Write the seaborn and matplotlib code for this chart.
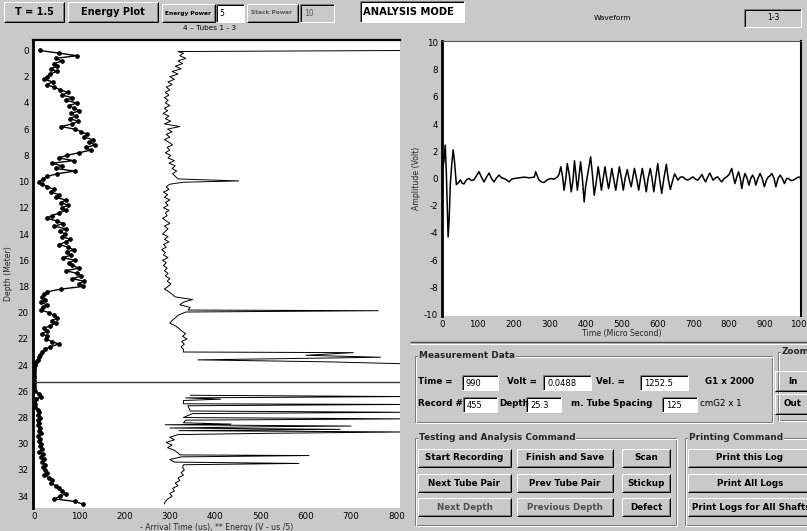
import numpy as np
import pandas as pd
import matplotlib
matplotlib.use("Agg")
import matplotlib.pyplot as plt
import seaborn as sns
from matplotlib.patches import Rectangle

sns.set_theme(style="white")
plt.rcParams["font.family"] = ["DejaVu Sans"]
plt.rcParams["axes.unicode_minus"] = False

# ---------------- data ----------------
RECORD_STEP_M = 0.2

# Energy log (V-us/5), one value per record from 0.0 m downwards
energy_v_us = [
    13, 55, 95, 48, 62,   45, 52, 38, 50, 35,   30, 22, 42, 28, 45,
    58, 75, 62, 85, 70,   95, 78, 88, 100, 82,  92, 80, 98, 85, 60,
    90, 105, 118, 110, 130,  122, 135, 115, 125, 100,  72, 55, 88, 40, 62,
    48, 90, 52, 30, 20,   12, 18, 30, 45, 38,   55, 48, 70, 60, 75,
    62, 70, 55, 40, 28,   50, 65, 45, 70, 58,   68, 62, 80, 70, 56,
    75, 88, 72, 82, 65,   90, 78, 85, 100, 70,  95, 105, 85, 110, 100,
    108, 60, 30, 22, 18,  25, 16, 28, 20, 15,   34, 45, 52, 40, 48,
    35, 22, 28, 18, 30,   26, 40, 55, 35, 25,   18, 14, 12, 8, 5,
    2, 1, 0, 1, 0,        1, 0, 0, 1, 0,        2, 12, 16, 4, 1,
    3, 2, 8, 12, 10,      14, 8, 12, 10, 13,    11, 15, 9, 14, 12,
    16, 13, 18, 12, 20,   15, 22, 18, 25, 20,   24, 30, 22, 34, 40,
    38, 48, 55, 62, 70,   58, 45, 90, 108,
]

# First arrival time (us) with its depths; NaN marks the unlogged stretch
arrival_depth_m = [
    0.0, 0.08, 0.2, 0.4, 0.6, 0.8, 1.0, 1.2, 1.4, 1.6, 1.8, 2.0, 2.2, 2.4, 2.6,
    2.8, 3.0, 3.2, 3.4, 3.6, 3.8, 4.0, 4.2, 4.4, 4.6, 4.8, 5.0, 5.2, 5.4, 5.6,
    5.8, 6.0, 6.2, 6.4, 6.6, 6.8, 7.0, 7.2, 7.4, 7.6, 7.8, 8.0, 8.2, 8.4, 8.6,
    8.8, 9.0, 9.2, 9.4, 9.6, 9.8, 9.95, 10.05, 10.2, 10.4, 10.6, 10.8, 11.0,
    11.2, 11.4, 11.6, 11.8, 12.0, 12.2, 12.4, 12.6, 12.8, 13.0, 13.2, 13.4,
    13.6, 13.8, 14.0, 14.2, 14.4, 14.6, 14.8, 15.0, 15.2, 15.4, 15.6, 15.8,
    16.0, 16.2, 16.4, 16.6, 16.8, 17.0, 17.2, 17.4, 17.6, 17.8, 18.0, 18.2,
    18.4, 18.6, 18.8, 19.0, 19.2, 19.4, 19.6, 19.8, 19.85, 19.95, 20.2, 20.4,
    20.6, 20.8, 21.0, 21.2, 21.4, 21.6, 21.8, 22.0, 22.2, 22.4, 22.6, 22.8,
    23.0, 23.05, 23.25, 23.4, 23.6, 23.75, 23.9,
    24.5,
    26.3, 26.4, 26.5, 26.6, 26.7, 26.95, 27.0, 27.1, 27.5, 27.6, 27.7, 28.0,
    28.1, 28.2, 28.4, 28.5, 28.55, 28.65, 28.7, 28.8, 28.9, 29.0, 29.1, 29.2,
    29.3, 29.5, 29.7, 29.9, 30.1, 30.3, 30.5, 30.7, 30.85, 30.9, 31.0, 31.2,
    31.4, 31.5, 31.6, 31.8, 32.0, 32.2, 32.4, 32.6, 32.8, 33.0, 33.2, 33.4,
    33.6, 33.8, 34.0, 34.2, 34.4, 34.6,
]
arrival_time_us = [
    820, 318, 330, 322, 335, 318, 328, 312, 325, 305, 318, 300, 310, 296, 305,
    292, 300, 290, 298, 288, 296, 290, 300, 288, 295, 285, 298, 290, 302, 288,
    322, 295, 305, 292, 300, 288, 298, 306, 294, 300, 290, 302, 296, 310, 298,
    312, 305, 315, 306, 312, 318, 452, 330, 300, 292, 298, 286, 295,
    288, 300, 290, 296, 286, 298, 290, 294, 284, 292, 300, 288,
    296, 290, 284, 296, 288, 298, 286, 292, 282, 290, 286, 296,
    284, 292, 286, 294, 288, 296, 290, 300, 294, 302, 296, 288,
    298, 305, 312, 350, 330, 322, 345, 340, 760, 335, 318, 312,
    305, 300, 312, 320, 326, 335, 328, 338, 326, 332, 325, 330,
    330, 705, 600, 765, 362, 648, 820,
    np.nan,
    345, 820, 335, 412, 330, 330, 820, 340, 345, 820, 350, 330,
    820, 335, 330, 435, 290, 700, 516, 300, 676, 320, 820, 523,
    318, 300, 310, 292, 305, 295, 310, 318, 322, 607, 325, 300,
    310, 585, 330, 328, 332, 325, 330, 318, 322, 312, 318, 306,
    310, 300, 305, 296, 290, 288,
]

current_depth_m = 25.3

# Received waveform at the current depth
wave_time_us = [
    0, 5, 9, 12, 14, 17, 20, 23, 27, 31, 35, 40, 46, 51, 56, 61, 68, 75, 82,
    89, 96, 103, 110, 117, 124, 131, 138, 145, 152, 159, 166, 173, 180, 187,
    194, 201, 215, 229, 243, 257, 261, 266, 270, 277, 284, 293, 303, 312, 321,
    326, 331, 336, 340, 345, 349, 355, 360, 365, 369, 373, 377, 381, 386, 391,
    396, 400, 405, 414, 419, 424, 430, 435, 440, 444, 449, 454, 459, 464, 469,
    473, 478, 484, 489, 494, 500, 505, 510, 516, 521, 527, 531, 536, 542, 548,
    553, 558, 563, 569, 574, 580, 585, 590, 595, 601, 606, 612, 618, 625, 630,
    636, 642, 648, 657, 664, 671, 678, 685, 692, 699, 706, 713, 719, 724, 729,
    734, 740, 746, 751, 755, 762, 768, 774, 779, 786, 793, 800, 807, 812, 816,
    821, 826, 831, 835, 840, 844, 850, 855, 860, 865, 870, 874, 880, 886, 892,
    898, 904, 909, 914, 919, 925, 930, 936, 942, 948, 954, 960, 965, 972, 979,
    986, 993, 1000,
]
wave_amp_v = [
    0.45, 1.2, 2.45, 0.5, -1.5, -4.3, -3.0, -0.5, 1.0, 2.1, 1.2, -0.45, -0.3,
    -0.1, -0.35, -0.4, -0.1, 0.0, -0.15, -0.1, 0.2, 0.5, 0.1, -0.25, 0.1, 0.4,
    0.0, -0.25, 0.05, 0.25, 0.05, 0.0, -0.1, -0.25, -0.05, 0.0, 0.05, 0.1,
    0.05, 0.1, 0.5, 0.15, -0.1, -0.25, -0.3, -0.1, 0.0, -0.05, 0.1, 0.3, 0.86,
    0.1, -0.86, 0.0, 1.1, 0.2, -0.98, -0.1, 1.3, 0.3, -0.86, 0.0, 1.23, 0.0,
    -1.72, -0.6, 0.2, 1.59, 0.3, -1.23, -0.2, 0.86, 0.0, -0.86, 0.0, 0.86, 0.0,
    -0.74, 0.0, 0.74, 0.0, -0.86, 0.0, 0.86, 0.0, -0.86, 0.0, 0.66, 0.0, -0.61,
    0.0, 0.74, 0.0, -0.86, 0.0, 0.74, 0.0, -0.98, 0.0, 0.74, 0.0, -0.98, 0.0,
    1.1, 0.0, -1.1, 0.0, 1.05, 0.0, -0.81, -0.2, 0.35, -0.12, 0.1, 0.12, -0.05,
    -0.12, 0.0, 0.12, -0.05, -0.12, 0.1, 0.3, 0.0, -0.25, 0.1, 0.4, 0.1, -0.12,
    0.05, 0.12, -0.1, -0.25, 0.0, 0.12, 0.3, 0.74, 0.1, -0.37, 0.1, 0.49, 0.0,
    -0.74, 0.0, 0.37, 0.0, -0.49, 0.0, 0.25, 0.0, -0.49, 0.0, 0.37, 0.0, -0.61,
    -0.1, 0.12, 0.2, 0.37, 0.0, -0.61, 0.0, 0.25, 0.0, -0.37, 0.0, 0.0, -0.15,
    -0.12, 0.0, 0.12, 0.0,
]

depth_ticks = list(range(0, 35, 2))
log_x_ticks = [0, 100, 200, 300, 400, 500, 600, 700, 800]
wave_x_ticks = [0, 100, 200, 300, 400, 500, 600, 700, 800, 900, 1000]
wave_y_ticks = [10, 8, 6, 4, 2, 0, -2, -4, -6, -8, -10]

energy_df = pd.DataFrame({
    "depth": np.arange(len(energy_v_us)) * RECORD_STEP_M,
    "energy": energy_v_us,
})
arrival_df = pd.DataFrame({"depth": arrival_depth_m, "time": arrival_time_us})
arrival_df["run"] = arrival_df["time"].isna().cumsum()
arrival_df = arrival_df.dropna()
wave_df = pd.DataFrame({"t": wave_time_us, "v": wave_amp_v})

# ---------------- figure ----------------
W, H = 807, 531
BG = "#c9c9c9"
fig = plt.figure(figsize=(W / 100, H / 100), dpi=100)
fig.patch.set_facecolor(BG)


def axes_px(x0, y0, x1, y1, **kw):
    return fig.add_axes([x0 / W, 1 - y1 / H, (x1 - x0) / W, (y1 - y0) / H], **kw)


ui = axes_px(0, 0, W, H, zorder=0)
ui.set_xlim(0, W)
ui.set_ylim(H, 0)
ui.axis("off")

PX = 0.72  # one pixel in points


def hline(x0, x1, y, c, lw=PX):
    ui.plot([x0, x1], [y, y], color=c, lw=lw, solid_capstyle="butt")


def vline(x, y0, y1, c, lw=PX):
    ui.plot([x, x], [y0, y1], color=c, lw=lw, solid_capstyle="butt")


def raised(x0, y0, x1, y1, face=BG):
    ui.add_patch(Rectangle((x0, y0), x1 - x0, y1 - y0, facecolor=face, edgecolor="none"))
    hline(x0, x1, y0, "white")
    vline(x0, y0, y1, "white")
    hline(x0, x1, y1, "black")
    vline(x1, y0, y1, "black")
    hline(x0 + 1, x1 - 1, y1 - 1, "#7a7a7a")
    vline(x1 - 1, y0 + 1, y1 - 1, "#7a7a7a")


def sunken(x0, y0, x1, y1, face="white"):
    ui.add_patch(Rectangle((x0, y0), x1 - x0, y1 - y0, facecolor=face, edgecolor="none"))
    hline(x0, x1, y0, "#7a7a7a")
    vline(x0, y0, y1, "#7a7a7a")
    hline(x0 + 1, x1, y0 + 1, "black")
    vline(x0 + 1, y0 + 1, y1, "black")
    hline(x0, x1, y1, "white")
    vline(x1, y0, y1, "white")


def group(x0, y0, x1, y1, title):
    for off, c in ((0, "#7a7a7a"), (1, "white")):
        hline(x0 + off, x1 + off, y0 + off, c)
        hline(x0 + off, x1 + off, y1 + off, c)
        vline(x0 + off, y0 + off, y1 + off, c)
        vline(x1 + off, y0 + off, y1 + off, c)
    ui.text(x0 + 4, y0, title, fontsize=6.4, fontweight="bold", va="center", ha="left",
            bbox=dict(facecolor=BG, edgecolor="none", pad=0.6))


def label(x, y, s, ha="left", size=6.3, weight="bold", color="black"):
    ui.text(x, y, s, fontsize=size, fontweight=weight, ha=ha, va="center", color=color)


# top bar
raised(4, 2, 64, 22)
label(34, 12, "T = 1.5", ha="center", size=7)
raised(68, 2, 158, 22)
label(113, 12, "Energy Plot", ha="center", size=7)
raised(162, 4, 215, 22)
label(188, 13, "Energy Power", ha="center", size=4.2)
sunken(216, 4, 244, 22)
label(219, 13, "5", size=5.5, weight="normal")
raised(247, 4, 298, 22)
label(272, 13, "Stack Power", ha="center", size=4.2, color="#5a5a5a")
sunken(300, 4, 334, 22, face=BG)
label(304, 13, "10", size=5.5, weight="normal", color="#5a5a5a")
sunken(360, 1, 464, 22)
label(363, 12, "ANALYSIS MODE", size=7.2)
sunken(744, 9, 801, 27, face=BG)
label(773, 18, "1-3", ha="center", size=5.5, weight="normal")

label(210, 28, "4 \u2013 Tubes 1 - 3", ha="center", size=5.3, weight="normal")
label(612, 18, "Waveform", ha="center", size=5.3, weight="normal")

# panel divider
hline(410, W, 342, "#4a4a4a", lw=1.0)
hline(410, W, 344, "white")

# measurement data
group(415, 356, 772, 422, "Measurement Data")
label(418, 382, "Time =")
sunken(462, 375, 498, 390)
label(466, 383, "990", weight="normal", size=6.0)
label(507, 382, "Volt =")
sunken(543, 375, 591, 390)
label(547, 383, "0.0488", weight="normal", size=6.0)
label(596, 382, "Vel. =")
sunken(640, 375, 688, 390)
label(644, 383, "1252.5", weight="normal", size=6.0)
label(705, 382, "G1 x 2000")
label(418, 404, "Record #")
sunken(463, 397, 497, 412)
label(467, 405, "455", weight="normal", size=6.0)
label(499, 404, "Depth")
sunken(526, 397, 561, 412)
label(530, 405, "25.3", weight="normal", size=6.0)
label(571, 404, "m. Tube Spacing")
sunken(662, 397, 697, 412)
label(666, 405, "125", weight="normal", size=6.0)
label(700, 404, "cmG2 x 1", weight="normal")

group(778, 352, 812, 420, "Zoom")
raised(775, 371, 810, 391)
label(788, 381, "In")
raised(775, 394, 810, 414)
label(784, 404, "Out")

# command groups
group(415, 438, 676, 525, "Testing and Analysis Command")
group(685, 438, 812, 525, "Printing Command")
rows = [(449, 467), (474, 492), (498, 516)]
cols = [(418, 511), (517, 613), (622, 670)]
names = [["Start Recording", "Finish and Save", "Scan"],
         ["Next Tube Pair", "Prev Tube Pair", "Stickup"],
         ["Next Depth", "Previous Depth", "Defect"]]
dimmed = {"Next Depth", "Previous Depth"}
for (y0, y1), row in zip(rows, names):
    for (x0, x1), name in zip(cols, row):
        raised(x0, y0, x1, y1)
        label((x0 + x1) / 2, (y0 + y1) / 2, name, ha="center",
              color="#505050" if name in dimmed else "black")
for (y0, y1), name in zip(rows, ["Print this Log", "Print All Logs",
                                  "Print Logs for All Shafts"]):
    raised(688, y0, 812, y1)
    label(692 if name.endswith("Shafts") else 750, (y0 + y1) / 2, name,
          ha="left" if name.endswith("Shafts") else "center")

# ---------------- depth log ----------------
ax = axes_px(33, 40, 400, 508, zorder=2)
ax.set_facecolor("white")
sns.lineplot(data=arrival_df, x="time", y="depth", units="run", estimator=None,
             sort=False, orient="y", color="black", lw=0.7, ax=ax)
sns.lineplot(data=energy_df, x="energy", y="depth", sort=False, orient="y",
             estimator=None, color="black", lw=1.0, marker="o", ms=2.6,
             mec="black", mfc="black", ax=ax)
ax.axhline(current_depth_m, color="#3a3a3a", lw=1.0)
ax.set_xlim(-2, 808)
ax.set_ylim(34.9, -0.8)
ax.set_yticks(depth_ticks)
ax.set_xticks(log_x_ticks)
ax.tick_params(length=0, labelsize=6.3, pad=3, colors="black")
ax.set_xlabel("- Arrival Time (us), ** Energy (V - us /5)", fontsize=5.6, labelpad=1)
ax.set_ylabel("Depth (Meter)", fontsize=5.6, labelpad=3)
for side in ("right", "bottom"):
    ax.spines[side].set_visible(False)
ax.spines["left"].set_linewidth(2.0)
ax.spines["top"].set_linewidth(1.6)
for side in ("left", "top"):
    ax.spines[side].set_color("black")

# ---------------- waveform ----------------
wx = axes_px(442, 41, 801, 316, zorder=2)
wx.set_facecolor("white")
sns.lineplot(data=wave_df, x="t", y="v", sort=False, estimator=None,
             color="black", lw=1.1, ax=wx)
wx.set_xlim(0, 1000)
wx.set_ylim(-10.1, 10.1)
wx.set_xticks(wave_x_ticks)
wx.set_yticks(wave_y_ticks)
wx.tick_params(length=0, labelsize=6.3, pad=3, colors="black")
wx.set_xlabel("Time (Micro Second)", fontsize=5.6, labelpad=0)
wx.set_ylabel("Amplitude (Volt)", fontsize=5.6, labelpad=2)
wx.spines["bottom"].set_visible(False)
wx.spines["left"].set_linewidth(2.0)
wx.spines["left"].set_color("black")
wx.spines["right"].set_linewidth(1.5)
wx.spines["right"].set_color("black")
wx.spines["top"].set_linewidth(0.8)
wx.spines["top"].set_color("#555555")

fig.savefig("out.png", dpi=100, facecolor=BG)
